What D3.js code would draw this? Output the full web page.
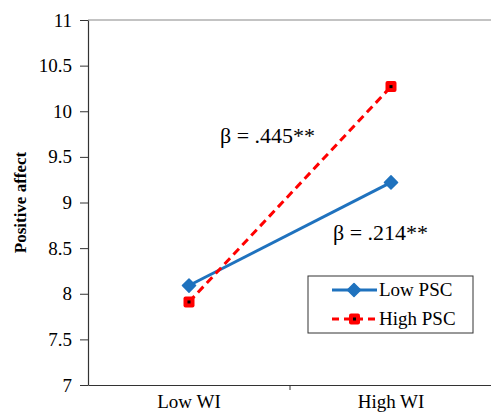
<!DOCTYPE html>
<html>
<head>
<meta charset="utf-8" />
<title>Positive affect by WI and PSC</title>
<script src="https://d3js.org/d3.v7.min.js"></script>
<style>
    body { margin: 0; background: #fff; }
</style>
</head>
<body>
<script>
// chart data
var categories = ["Low WI", "High WI"];
var lowPSC = [8.09, 9.22];
var highPSC = [7.91, 10.27];
var seriesNames = ["Low PSC", "High PSC"];
var yTicks = [7, 7.5, 8, 8.5, 9, 9.5, 10, 10.5, 11];
var notes = [
    { text: "β = .445**", cat: "Low WI", value: 9.65, dx: 132 },
    { text: "β = .214**", cat: "High WI", value: 8.59, dx: 43 }
];

var width = 491, height = 415;
var margin = { top: 20, right: -1, bottom: 30, left: 88 };

var svg = d3.select("body").append("svg")
    .attr("width", width)
    .attr("height", height);

var x = d3.scaleBand()
    .domain(categories)
    .range([margin.left, width - margin.right]);

var y = d3.scaleLinear()
    .domain([7, 11])
    .range([height - margin.bottom, margin.top]);

// top gridline
svg.append("line")
    .attr("x1", margin.left).attr("x2", width)
    .attr("y1", y(11)).attr("y2", y(11))
    .attr("stroke", "#888").attr("stroke-width", 1.2);

// y axis
var yAxis = svg.append("g")
    .attr("transform", "translate(" + margin.left + ",0)")
    .call(d3.axisLeft(y).tickValues(yTicks).tickSize(8).tickSizeOuter(0).tickFormat(d3.format("")));
yAxis.select(".domain").attr("stroke", "#333").attr("stroke-width", 1.2);
yAxis.selectAll(".tick line").attr("stroke", "#333");
yAxis.selectAll(".tick text").attr("font-size", 19).attr("dx", "-5").attr("fill", "#000");

// x axis
var xAxis = svg.append("g")
    .attr("transform", "translate(0," + y(7) + ")")
    .call(d3.axisBottom(x).tickSize(0).tickSizeOuter(0));
xAxis.select(".domain").attr("stroke", "#333").attr("stroke-width", 1.2);
xAxis.selectAll(".tick text").attr("font-size", 19).attr("dy", "1.05em").attr("fill", "#000");
// tick mark between categories
xAxis.append("line")
    .attr("x1", x("High WI")).attr("x2", x("High WI"))
    .attr("y1", 0).attr("y2", 5)
    .attr("stroke", "#333");

// y label
svg.append("text")
    .attr("transform", "translate(26," + y(9) + ") rotate(-90)")
    .attr("text-anchor", "middle")
    .attr("font-size", 17)
    .attr("font-weight", "bold")
    .text("Positive affect");

var cx = function(d, i) { return x(categories[i]) + x.bandwidth() / 2; };
var line = d3.line().x(cx).y(function(d) { return y(d); });

var blue = "#1f72be", red = "#ff0000";

// low PSC
svg.append("path")
    .datum(lowPSC)
    .attr("d", line)
    .attr("fill", "none").attr("stroke", blue).attr("stroke-width", 3);

svg.selectAll(".diamond")
    .data(lowPSC).enter()
    .append("path")
    .attr("class", "diamond")
    .attr("d", d3.symbol().type(d3.symbolDiamond2).size(110))
    .attr("transform", function(d, i) { return "translate(" + cx(d, i) + "," + y(d) + ")"; })
    .attr("fill", blue)
    .attr("stroke", blue).attr("stroke-width", 1.5).attr("stroke-linejoin", "round");

// high PSC
svg.append("path")
    .datum(highPSC)
    .attr("d", line)
    .attr("fill", "none").attr("stroke", red).attr("stroke-width", 3)
    .attr("stroke-dasharray", "8,5");

var sq = svg.selectAll(".sq")
    .data(highPSC).enter()
    .append("g")
    .attr("transform", function(d, i) { return "translate(" + cx(d, i) + "," + y(d) + ")"; });
sq.append("rect")
    .attr("x", -5.5).attr("y", -5.5).attr("width", 11).attr("height", 11)
    .attr("rx", 2).attr("fill", red);
sq.append("rect")
    .attr("x", -1.5).attr("y", -1.5).attr("width", 3).attr("height", 3)
    .attr("fill", "#000");

// annotations
svg.selectAll(".note")
    .data(notes).enter()
    .append("text")
    .attr("class", "note")
    .attr("x", function(d) { return x(d.cat) + d.dx; })
    .attr("y", function(d) { return y(d.value); })
    .attr("font-size", 22)
    .text(function(d) { return d.text; });

// legend
var lg = svg.append("g").attr("transform", "translate(308,276)");
lg.append("rect")
    .attr("width", 165).attr("height", 57)
    .attr("fill", "#fff").attr("stroke", "#333").attr("stroke-width", 1);

var row1 = lg.append("g").attr("transform", "translate(0,14)");
row1.append("line").attr("x1", 24).attr("x2", 69).attr("stroke", blue).attr("stroke-width", 3);
row1.append("path")
    .attr("d", d3.symbol().type(d3.symbolDiamond2).size(110))
    .attr("transform", "translate(46,0)")
    .attr("fill", blue)
    .attr("stroke", blue).attr("stroke-width", 1.5).attr("stroke-linejoin", "round");
row1.append("text").attr("x", 71).attr("y", 6).attr("font-size", 19).text(seriesNames[0]);

var row2 = lg.append("g").attr("transform", "translate(0,43)");
row2.append("line").attr("x1", 24).attr("x2", 69)
    .attr("stroke", red).attr("stroke-width", 3).attr("stroke-dasharray", "7,5");
row2.append("rect").attr("x", 41).attr("y", -5.5).attr("width", 11).attr("height", 11).attr("rx", 2).attr("fill", red);
row2.append("rect").attr("x", 45).attr("y", -1.5).attr("width", 3).attr("height", 3).attr("fill", "#000");
row2.append("text").attr("x", 71).attr("y", 6).attr("font-size", 19).text(seriesNames[1]);

// all text in Times-like serif
svg.selectAll("text").style("font-family", "'Liberation Serif'");
</script>
</body>
</html>
